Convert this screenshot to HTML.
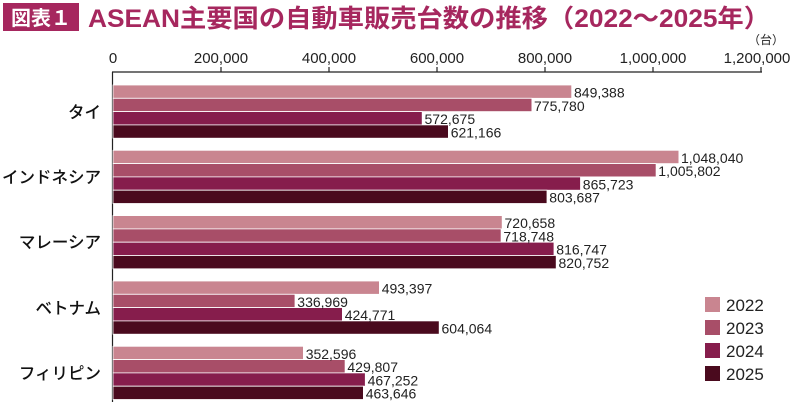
<!DOCTYPE html>
<html><head><meta charset="utf-8"><style>
html,body{margin:0;padding:0;background:#fff;}
svg{display:block;font-family:"Liberation Sans","Noto Sans CJK JP",sans-serif;}
</style></head><body>
<svg width="800" height="406" viewBox="0 0 800 406" xmlns="http://www.w3.org/2000/svg">
<rect x="3" y="3" width="76" height="28" fill="#a6275e"/>
<text x="41" y="25" font-size="20" font-weight="bold" fill="#fff" text-anchor="middle" font-family="Noto Sans CJK JP, sans-serif">図表１</text>
<text x="88" y="27" font-size="25" font-weight="bold" fill="#a6275e" textLength="682" lengthAdjust="spacingAndGlyphs" font-family="Liberation Sans, Noto Sans CJK JP, sans-serif">ASEAN主要国の自動車販売台数の推移（2022～2025年）</text>
<g font-size="15" fill="#222" text-anchor="middle">
<text x="113" y="63">0</text><text x="221" y="63">200,000</text><text x="329" y="63">400,000</text><text x="437" y="63">600,000</text><text x="545" y="63">800,000</text><text x="653" y="63">1,000,000</text><text x="757" y="63">1,200,000</text>
</g>
<text x="784" y="44" font-size="12" fill="#222" text-anchor="end" font-family="Noto Sans CJK JP, sans-serif">（台）</text>
<g stroke="#222" stroke-width="1.2">
<line x1="112" y1="72" x2="762" y2="72"/>
<line x1="112.5" y1="72" x2="112.5" y2="402"/>
<line x1="221" y1="72" x2="221" y2="67"/><line x1="329" y1="72" x2="329" y2="67"/><line x1="437" y1="72" x2="437" y2="67"/><line x1="545" y1="72" x2="545" y2="67"/><line x1="653" y1="72" x2="653" y2="67"/><line x1="761" y1="72" x2="761" y2="67"/>
</g>
<g font-size="16.5" fill="#111" text-anchor="end" font-family="Noto Sans CJK JP, sans-serif" font-weight="500">
<text x="101" y="118">タイ</text><text x="101" y="183">インドネシア</text><text x="101" y="248">マレーシア</text><text x="101" y="314">ベトナム</text><text x="101" y="379">フィリピン</text>
</g>
<g stroke="#fff" stroke-width="0.8">
<rect x="113" y="85" width="458.7" height="13.3" fill="#c98590"/>
<rect x="113" y="98.3" width="418.9" height="13.3" fill="#a84e68"/>
<rect x="113" y="111.6" width="309.2" height="13.3" fill="#861d4c"/>
<rect x="113" y="124.9" width="335.4" height="13.3" fill="#4a0a1e"/>
<rect x="113" y="150.3" width="565.9" height="13.3" fill="#c98590"/>
<rect x="113" y="163.6" width="543.1" height="13.3" fill="#a84e68"/>
<rect x="113" y="176.9" width="467.5" height="13.3" fill="#861d4c"/>
<rect x="113" y="190.2" width="434" height="13.3" fill="#4a0a1e"/>
<rect x="113" y="215.6" width="389.2" height="13.3" fill="#c98590"/>
<rect x="113" y="228.9" width="388.1" height="13.3" fill="#a84e68"/>
<rect x="113" y="242.2" width="441" height="13.3" fill="#861d4c"/>
<rect x="113" y="255.5" width="443.2" height="13.3" fill="#4a0a1e"/>
<rect x="113" y="281" width="266.4" height="13.3" fill="#c98590"/>
<rect x="113" y="294.3" width="182" height="13.3" fill="#a84e68"/>
<rect x="113" y="307.6" width="229.4" height="13.3" fill="#861d4c"/>
<rect x="113" y="320.9" width="326.2" height="13.3" fill="#4a0a1e"/>
<rect x="113" y="346.3" width="190.4" height="13.3" fill="#c98590"/>
<rect x="113" y="359.6" width="232.1" height="13.3" fill="#a84e68"/>
<rect x="113" y="372.9" width="252.3" height="13.3" fill="#861d4c"/>
<rect x="113" y="386.2" width="250.4" height="13.3" fill="#4a0a1e"/>
</g>
<g fill="#fff">
<rect x="572.5" y="85.5" width="54" height="12.5"/><rect x="532.7" y="98.8" width="54" height="12.5"/><rect x="423" y="112.1" width="54" height="12.5"/><rect x="449.2" y="125.4" width="54" height="12.5"/>
<rect x="679.7" y="150.8" width="68" height="12.5"/><rect x="656.9" y="164.1" width="68" height="12.5"/><rect x="581.3" y="177.4" width="54" height="12.5"/><rect x="547.8" y="190.7" width="54" height="12.5"/>
<rect x="503" y="216.1" width="54" height="12.5"/><rect x="501.9" y="229.4" width="54" height="12.5"/><rect x="554.8" y="242.7" width="54" height="12.5"/><rect x="557" y="256" width="54" height="12.5"/>
<rect x="380.2" y="281.5" width="54" height="12.5"/><rect x="295.8" y="294.8" width="54" height="12.5"/><rect x="343.2" y="308.1" width="54" height="12.5"/><rect x="440" y="321.4" width="54" height="12.5"/>
<rect x="304.2" y="346.8" width="54" height="12.5"/><rect x="345.9" y="360.1" width="54" height="12.5"/><rect x="366.1" y="373.4" width="54" height="12.5"/><rect x="364.2" y="386.7" width="54" height="12.5"/>
</g>
<g font-size="14" fill="#222">
<text x="574" y="97.5">849,388</text><text x="534" y="110.8">775,780</text><text x="424.5" y="124.1">572,675</text><text x="450.7" y="137.4">621,166</text>
<text x="681" y="162.8">1,048,040</text><text x="658.3" y="176.1">1,005,802</text><text x="582.8" y="189.4">865,723</text><text x="549.3" y="202.7">803,687</text>
<text x="504.5" y="228.1">720,658</text><text x="503.4" y="241.4">718,748</text><text x="556.3" y="254.7">816,747</text><text x="558.5" y="268">820,752</text>
<text x="381.7" y="293.5">493,397</text><text x="297.3" y="306.8">336,969</text><text x="344.7" y="320.1">424,771</text><text x="441.5" y="333.4">604,064</text>
<text x="305.7" y="358.8">352,596</text><text x="347.4" y="372.1">429,807</text><text x="367.6" y="385.4">467,252</text><text x="365.7" y="398.7">463,646</text>
</g>
<rect x="705" y="297" width="15" height="15" fill="#c98590"/>
<rect x="705" y="320" width="15" height="15" fill="#a84e68"/>
<rect x="705" y="343" width="15" height="15" fill="#861d4c"/>
<rect x="705" y="366" width="15" height="15" fill="#4a0a1e"/>
<g font-size="17" fill="#222">
<text x="726" y="311">2022</text><text x="726" y="334">2023</text><text x="726" y="357">2024</text><text x="726" y="380">2025</text>
</g>
</svg>
</body></html>
